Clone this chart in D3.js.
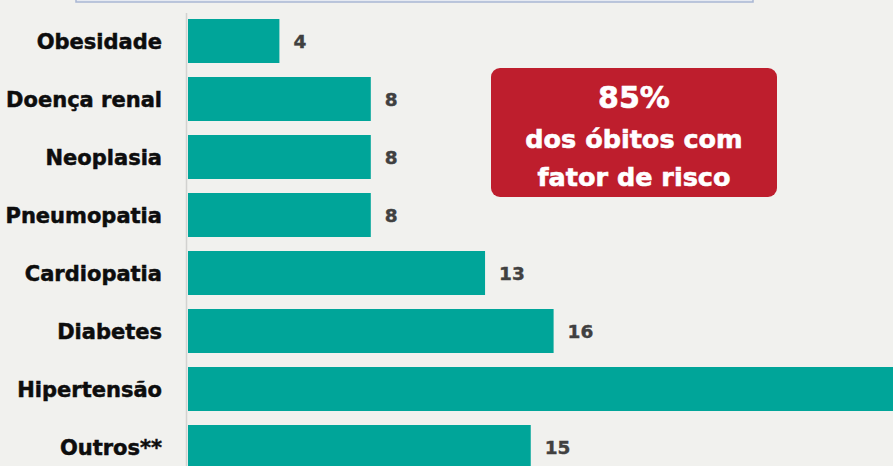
<!DOCTYPE html>
<html>
<head>
<meta charset="utf-8">
<script src="https://cdn.jsdelivr.net/npm/d3@7"></script>
<style>
  html, body { margin: 0; padding: 0; background: #f1f1ee; }
  #chart { width: 893px; height: 466px; }
</style>
</head>
<body>
<div id="chart"></div>
<script>
// Fatores de risco nos óbitos – barras horizontais

const categories = ["Obesidade", "Doença renal", "Neoplasia", "Pneumopatia",
  "Cardiopatia", "Diabetes", "Hipertensão", "Outros**"];
const values = [4, 8, 8, 8, 13, 16, 38, 15];
const calloutLines = ["85%", "dos óbitos com", "fator de risco"];

function renderChart(containerId) {
  const container = d3.select(`#${containerId}`);
  const width = 893;
  const height = 466;
  const font = "'DejaVu Sans', sans-serif";

  const svg = container.append("svg")
    .attr("width", width)
    .attr("height", height)
    .style("display", "block");

  svg.append("rect")
    .attr("width", width)
    .attr("height", height)
    .attr("fill", "#f1f1ee");

  // faint strip cut off at the top
  svg.append("rect")
    .attr("x", 76).attr("y", -10)
    .attr("width", 677).attr("height", 12)
    .attr("fill", "#e6eaf2")
    .attr("stroke", "#a9b7d3")
    .attr("stroke-width", 1.5);

  const x = d3.scaleLinear()
    .domain([0, 30])
    .range([188, 873.5]);

  const y = d3.scaleBand()
    .domain(categories)
    .range([5, 483])
    .paddingInner(0.2414)
    .paddingOuter(0.2414);

  // axis line
  svg.append("line")
    .attr("x1", 186.5).attr("x2", 186.5)
    .attr("y1", 13).attr("y2", height)
    .attr("stroke", "#d2d2d0")
    .attr("stroke-width", 1.5);

  const rows = categories.map((c, i) => ({ cat: c, val: values[i] }));

  svg.selectAll("rect.bar")
    .data(rows)
    .join("rect")
    .attr("class", "bar")
    .attr("x", x(0))
    .attr("y", d => y(d.cat))
    .attr("width", d => x(d.val) - x(0))
    .attr("height", y.bandwidth())
    .attr("fill", "#00a599");

  // category labels
  svg.selectAll("text.cat")
    .data(rows)
    .join("text")
    .attr("class", "cat")
    .attr("x", 162)
    .attr("y", d => y(d.cat) + y.bandwidth() / 2)
    .attr("dy", "0.36em")
    .attr("text-anchor", "end")
    .style("font-family", font)
    .style("font-weight", 700)
    .style("font-size", "21px")
    .attr("fill", "#0d0d0d")
    .attr("stroke", "#0d0d0d")
    .attr("stroke-width", 0.5)
    .text(d => d.cat);

  // value labels (the one past the right edge stays hidden, as in the source)
  svg.selectAll("text.val")
    .data(rows.filter(d => x(d.val) + 14 < width))
    .join("text")
    .attr("class", "val")
    .attr("x", d => x(d.val) + 14)
    .attr("y", d => y(d.cat) + y.bandwidth() / 2)
    .attr("dy", "0.36em")
    .style("font-family", font)
    .style("font-weight", 700)
    .style("font-size", "18.5px")
    .attr("fill", "#404040")
    .attr("stroke", "#404040")
    .attr("stroke-width", 0.4)
    .text(d => d.val);

  // callout box
  const box = svg.append("g");
  box.append("rect")
    .attr("x", 491).attr("y", 68)
    .attr("width", 286).attr("height", 129)
    .attr("rx", 9)
    .attr("fill", "#be1e2d");

  const lineY = [108, 148, 186];
  const lineSize = [30, 25.5, 25.5];
  box.selectAll("text")
    .data(calloutLines)
    .join("text")
    .attr("x", 634)
    .attr("y", (d, i) => lineY[i])
    .attr("text-anchor", "middle")
    .style("font-family", font)
    .style("font-weight", 700)
    .style("font-size", (d, i) => lineSize[i] + "px")
    .attr("fill", "#fff")
    .attr("stroke", "#fff")
    .attr("stroke-width", 0.6)
    .text(d => d);
}

document.addEventListener("DOMContentLoaded", () => {
  renderChart("chart");
});
</script>
</body>
</html>
